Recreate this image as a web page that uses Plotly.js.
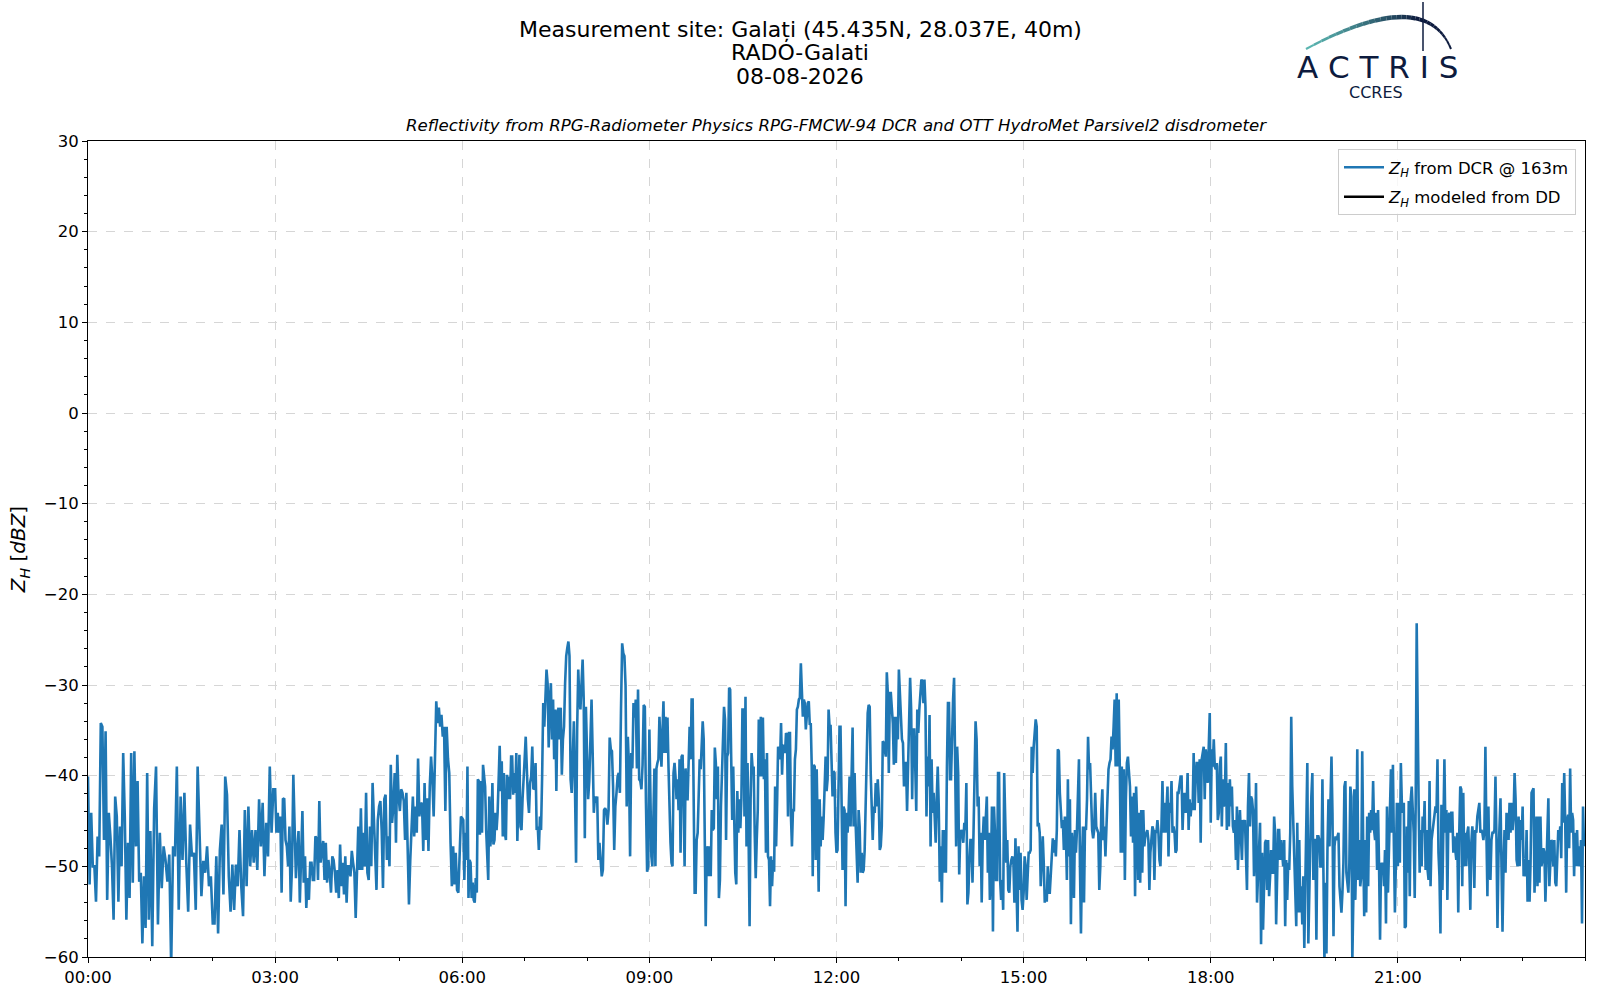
<!DOCTYPE html>
<html>
<head>
<meta charset="utf-8">
<script src="https://cdn.plot.ly/plotly-3.0.1.min.js"></script>
<style>
  html, body { margin: 0; padding: 0; background: #fff; }
  #chart { width: 1600px; height: 1000px; }
</style>
</head>
<body>
<div id="chart"></div>
<script>
// Z_H from the cloud radar (dBZ), one array per hour
const zh00 = [-40.1,-52.0,-44.1,-50.0,-50.0,-53.9,-46.7,-48.9,-34.2,-34.6,-47.1,-35.1,-53.7,-44.1,-46.7,-50.0,-55.9,-42.3,-44.5,-53.9,-45.6,-50.0,-37.5,-44.5,-55.9,-47.4,-53.5,-37.5,-51.8,-37.3,-47.8,-40.6,-51.7,-50.7,-58.5,-51.1,-56.8,-39.7,-55.9];
const zh01 = [-46.1,-58.8,-43.6,-39.0,-56.4,-46.3,-52.4,-47.8,-49.3,-51.7,-48.7,-61.0,-47.8,-48.9,-39.0,-54.8,-42.3,-49.3,-41.9,-49.6,-55.0,-45.4,-48.9,-48.5,-54.8,-39.0,-47.2,-53.3,-49.4,-50.7,-47.8,-52.2,-51.1];
const zh02 = [-56.3,-56.3,-48.9,-57.4,-48.2,-45.4,-53.1,-40.1,-42.1,-51.1,-55.0,-49.8,-54.8,-49.8,-52.2,-46.0,-52.2,-55.5,-43.8,-52.2,-43.4,-50.0,-46.0,-49.6,-46.0,-50.4,-42.6,-47.8,-43.0,-51.1,-45.2,-48.9,-39.0,-46.3,-41.5];
const zh03 = [-41.5,-46.3,-44.1,-46.3,-44.5,-52.9,-42.6,-42.5,-47.1,-47.8,-50.0,-45.6,-53.9,-50.0,-39.9,-44.9,-51.3,-48.2,-46.1,-54.0,-47.1,-43.9,-51.8,-48.9,-54.6,-51.3,-53.7,-49.6,-49.6,-51.5,-51.5,-46.7,-46.9,-51.5,-42.8,-49.6,-48.3,-47.2,-51.5,-47.4,-51.8,-49.3,-50.7,-52.9,-48.9,-49.3,-50.7,-52.9];
const zh04 = [-50.4,-53.5,-47.6,-52.2,-49.6,-53.1,-48.9,-54.0,-50.0,-50.0,-51.1,-48.3,-49.6,-50.7,-55.7,-50.0,-45.6,-50.4,-43.6,-50.4,-46.3,-50.0,-41.9,-50.7,-51.5,-45.6,-50.0,-40.8,-44.5,-47.1,-52.6,-44.9,-43.4,-42.8,-46.0,-52.4,-42.6,-42.1,-49.3,-46.7,-50.0,-38.8,-45.2,-43.4,-39.7,-47.4,-37.7,-42.3];
const zh05 = [-43.9,-41.5,-41.9,-42.8,-47.1,-41.9,-47.4,-54.2,-49.3,-44.9,-42.3,-46.7,-43.4,-46.3,-38.1,-44.5,-43.2,-43.0,-48.3,-40.8,-47.1,-42.5,-48.3,-41.2,-37.9,-40.4,-44.5,-38.2,-31.8,-34.2,-32.5,-34.6,-33.3,-35.7,-34.6,-43.9,-34.6,-38.1,-39.7,-47.4,-52.2,-47.8,-52.0,-48.5,-52.6,-52.9,-49.6,-44.5];
const zh06 = [-44.7,-44.9,-51.5,-46.3,-49.3,-39.0,-53.5,-49.3,-49.6,-53.5,-51.8,-53.7,-54.0,-51.3,-52.9,-40.4,-40.6,-46.5,-40.6,-46.3,-38.8,-39.7,-41.2,-46.0,-49.3,-51.5,-42.3,-47.8,-46.3,-40.8,-47.6,-47.1,-44.1,-46.0,-44.1,-41.2,-36.7,-41.7,-38.4,-46.7,-39.7,-46.3,-47.1,-39.9,-42.6,-40.1,-42.6,-37.9,-37.9,-42.1,-39.7,-41.9,-37.5,-47.2,-40.6,-37.7,-45.6,-46.0,-42.6,-40.8];
const zh07 = [-38.2,-35.7,-39.7,-42.6,-44.1,-40.8,-40.1,-36.8,-41.5,-41.4,-38.6,-46.0,-45.6,-48.2,-44.5,-46.0,-40.1,-32.0,-34.6,-31.6,-28.3,-29.8,-36.9,-31.6,-29.8,-36.0,-31.6,-38.2,-32.7,-41.7,-33.1,-32.5,-36.0,-32.5,-39.9,-36.0,-34.6,-29.8,-26.8,-25.9,-25.2,-26.8,-40.4,-41.9,-37.9,-34.0,-41.2,-49.6,-34.9,-28.3,-31.6,-32.7,-29.8,-27.2,-31.6,-46.9,-32.4];
const zh08 = [-37.5,-42.6,-40.6,-35.7,-31.6,-37.5,-44.1,-42.3,-43.0,-42.3,-49.3,-47.4,-49.3,-51.1,-50.4,-43.8,-43.6,-43.9,-45.4,-43.8,-35.8,-37.1,-37.3,-41.2,-48.2,-43.4,-41.9,-40.1,-39.7,-41.9,-32.5,-25.4,-26.5,-26.8,-30.1,-43.4,-35.7,-39.0,-48.9,-37.5,-39.2,-32.0,-33.6,-31.6,-39.2,-30.5,-40.4,-40.6,-41.5,-38.8,-32.2,-32.4,-43.0,-50.6,-50.0];
const zh09 = [-34.9,-41.9,-48.9,-50.0,-44.5,-39.2,-50.0,-39.2,-38.6,-38.2,-33.5,-37.5,-39.0,-35.3,-31.8,-37.5,-33.5,-37.5,-33.6,-39.0,-44.1,-47.4,-49.6,-50.0,-39.7,-38.6,-40.1,-42.6,-40.4,-43.8,-38.2,-48.5,-37.9,-37.7,-42.6,-50.0,-39.2,-42.6,-42.6,-36.4,-34.6,-38.2,-31.6,-31.6,-46.3,-52.9,-52.9,-47.1,-46.3,-40.1,-38.2,-39.3,-35.7,-34.0,-36.0,-43.8,-56.6,-48.2,-47.8,-51.1,-47.8,-51.1];
const zh10 = [-43.8,-46.0,-45.8,-36.9,-38.6,-42.6,-39.0,-53.5,-51.5,-43.4,-39.3,-36.0,-32.4,-33.8,-47.1,-37.9,-37.5,-30.3,-30.5,-37.9,-44.9,-39.0,-44.1,-50.7,-52.0,-41.7,-46.3,-42.6,-45.8,-42.5,-32.7,-32.7,-44.5,-31.3,-47.8,-38.6,-46.3,-56.6,-42.6,-37.5,-39.3,-39.0,-46.3,-51.3,-47.1,-43.8,-33.8,-40.1,-33.5,-40.1,-33.6,-40.4,-38.2,-48.5,-37.5,-48.9,-49.3,-54.4,-48.9,-52.2,-49.3];
const zh11 = [-50.6,-41.2,-47.8,-43.0,-36.8,-37.1,-38.2,-34.2,-39.9,-36.6,-36.8,-37.5,-35.3,-35.5,-44.5,-35.3,-35.3,-44.5,-47.8,-43.8,-43.8,-38.2,-37.1,-32.7,-32.4,-31.6,-31.4,-27.6,-30.9,-33.5,-31.6,-32.0,-34.9,-33.6,-32.0,-31.8,-34.4,-34.2,-39.0,-51.1,-38.8,-39.0,-49.3,-39.3,-48.5,-52.8,-42.6,-47.8,-44.5,-47.1,-44.7,-41.9,-37.9,-41.7,-40.4,-32.7,-34.6,-34.4,-40.1,-42.3,-39.5,-39.7,-46.3];
const zh12 = [-48.5,-48.2,-42.6,-34.6,-34.6,-46.3,-50.4,-43.4,-43.8,-54.4,-44.1,-46.3,-44.1,-40.1,-45.6,-39.9,-34.7,-45.6,-39.7,-45.2,-48.5,-51.8,-43.8,-45.6,-50.7,-48.5,-50.7,-50.4,-48.2,-42.3,-34.9,-33.1,-32.2,-32.4,-39.7,-42.6,-47.1,-43.4,-44.1,-40.8,-43.4,-40.4,-42.6,-48.2,-47.8,-45.6,-36.2,-36.4,-37.5,-37.9,-28.6,-30.9,-39.7,-30.9,-30.9,-33.5,-34.2,-38.8,-33.5,-38.6,-33.5,-36.0];
const zh13 = [-28.3,-30.9,-34.6,-36.0,-36.4,-41.2,-38.6,-38.6,-43.9,-39.0,-31.6,-29.2,-32.7,-42.6,-34.9,-34.9,-39.0,-43.9,-32.7,-35.3,-32.7,-30.1,-29.4,-29.6,-32.0,-29.4,-32.4,-44.5,-37.9,-41.2,-33.3,-47.8,-38.2,-44.1,-41.9,-44.5,-47.4,-42.6,-39.0,-43.4,-51.7,-47.8,-54.0,-46.0,-50.7,-46.0,-50.7,-39.0,-32.0,-32.0,-40.4,-40.4,-35.3,-31.6,-29.2,-36.4,-47.8,-36.8,-39.7,-50.9,-46.7];
const zh14 = [-46.0,-46.3,-47.4,-45.2,-46.0,-40.8,-54.2,-52.9,-49.3,-47.1,-47.1,-51.8,-46.3,-39.0,-34.0,-36.0,-43.4,-42.3,-50.0,-46.3,-54.0,-47.1,-44.5,-47.1,-44.5,-42.3,-50.7,-46.3,-53.7,-50.7,-43.4,-57.2,-43.4,-46.3,-51.5,-51.5,-39.7,-39.7,-51.5,-53.7,-51.5,-54.8,-39.7,-46.3,-49.6,-47.1,-52.6,-52.9,-50.0,-49.3,-48.9,-49.6,-54.0,-46.9,-51.1,-57.2,-47.8,-52.6,-48.5,-53.7,-54.8];
const zh15 = [-52.9,-48.9,-50.0,-53.7,-51.1,-48.5,-48.5,-48.2,-36.8,-39.7,-36.8,-35.3,-33.8,-34.6,-45.6,-45.2,-46.3,-52.2,-50.0,-46.7,-49.6,-54.0,-52.6,-53.9,-50.0,-52.9,-52.9,-50.7,-47.8,-46.9,-48.5,-47.1,-48.9,-46.0,-37.1,-37.3,-41.9,-44.5,-45.8,-44.9,-48.2,-44.5,-46.3,-51.5,-40.4,-48.9,-42.6,-56.4,-46.3,-47.8,-53.5,-46.0,-48.5,-46.0,-41.9,-38.2,-50.0,-57.4,-49.3,-45.6,-54.0,-45.6];
const zh16 = [-46.0,-42.6,-35.7,-39.3,-38.6,-44.1,-46.0,-46.9,-46.0,-41.9,-45.6,-46.0,-46.3,-52.6,-50.0,-43.8,-41.5,-47.1,-45.6,-48.9,-45.6,-42.3,-39.3,-38.6,-38.2,-35.7,-37.1,-34.6,-31.6,-39.0,-30.9,-39.0,-31.6,-38.6,-48.5,-39.0,-48.5,-39.3,-51.5,-42.6,-38.6,-37.9,-39.7,-41.2,-46.7,-42.3,-47.4,-41.9,-53.3,-41.2,-44.9,-51.5,-44.1,-51.8,-43.8,-50.7,-43.8,-47.8,-46.7,-46.3,-46.0];
const zh17 = [-47.1,-52.6,-48.5,-46.3,-45.6,-46.0,-51.5,-46.0,-46.3,-44.9,-46.3,-49.3,-50.0,-45.6,-40.6,-46.3,-43.0,-46.3,-42.6,-41.2,-48.9,-43.0,-44.1,-40.6,-46.3,-45.6,-46.3,-48.5,-48.2,-41.9,-41.9,-41.2,-40.1,-40.1,-46.0,-42.6,-41.9,-44.1,-43.4,-39.7,-46.0,-42.6,-44.5,-43.0,-43.8,-37.5,-43.8,-40.4,-38.6,-38.6,-43.0,-38.2,-47.4,-38.2,-37.5,-36.8,-42.6,-37.1,-38.2,-40.8,-36.8,-33.1];
const zh18 = [-45.2,-37.1,-39.0,-36.0,-39.0,-39.3,-38.6,-44.9,-44.1,-39.0,-37.9,-45.6,-40.4,-43.4,-42.6,-36.4,-46.0,-40.8,-45.6,-40.4,-43.4,-41.2,-45.6,-46.3,-44.9,-49.3,-43.4,-50.4,-46.3,-43.8,-46.7,-49.3,-44.9,-45.2,-44.9,-49.3,-52.6,-43.4,-39.7,-45.6,-42.3,-42.6,-43.8,-51.1,-47.8,-40.8,-54.0,-51.1,-48.5,-45.2,-58.6,-48.5,-57.0,-49.6,-47.4,-47.1,-52.6,-47.1,-53.3,-51.1,-48.2,-50.7];
const zh19 = [-50.7,-44.5,-46.3,-56.4,-50.7,-46.0,-46.0,-49.3,-47.1,-48.5,-50.0,-47.1,-56.6,-49.3,-53.7,-49.6,-50.4,-46.3,-33.5,-41.2,-45.6,-50.0,-52.9,-56.6,-45.2,-55.1,-47.1,-55.1,-52.2,-56.4,-51.1,-59.0,-51.8,-45.6,-38.6,-58.5,-50.0,-47.1,-42.3,-39.7,-51.5,-47.1,-47.1,-58.1,-46.7,-46.7,-47.1,-50.0,-50.0,-40.4,-50.7,-60.5,-51.8,-59.6,-48.2,-42.6,-47.8,-42.6,-37.9,-44.1,-57.7,-47.8];
const zh20 = [-46.7,-47.1,-46.7,-46.3,-52.2,-53.7,-55.1,-52.9,-49.6,-41.2,-40.6,-50.7,-52.2,-52.9,-49.6,-41.2,-42.3,-60.5,-53.7,-41.5,-53.7,-48.5,-37.1,-51.5,-47.1,-52.2,-51.1,-37.3,-47.8,-55.5,-47.1,-55.1,-44.5,-52.2,-44.1,-46.3,-43.8,-46.0,-40.6,-46.0,-47.1,-44.1,-50.4,-43.8,-50.0,-58.1,-49.6,-50.7,-49.6,-52.2,-48.2,-56.3,-43.4,-52.9,-48.2,-43.4,-39.3,-46.3,-38.8,-47.8,-55.1,-49.6,-43.0];
const zh21 = [-50.0,-43.0,-49.6,-38.6,-43.0,-44.1,-43.0,-56.8,-56.6,-45.6,-50.7,-42.8,-53.3,-42.6,-41.2,-43.4,-46.3,-53.5,-43.0,-23.2,-39.0,-43.4,-50.7,-46.0,-50.0,-44.5,-46.3,-42.8,-50.4,-46.0,-50.4,-51.5,-40.6,-52.2,-47.1,-46.3,-44.9,-44.5,-43.4,-44.1,-38.2,-48.5,-51.1,-57.4,-43.2,-52.6,-43.0,-38.2,-46.3,-43.8,-53.7,-44.5,-44.1,-46.3,-44.1,-44.1,-48.5,-46.7,-48.2,-49.3,-46.3,-55.1,-46.3];
const zh22 = [-41.2,-41.5,-52.2,-41.9,-50.0,-46.3,-50.0,-46.3,-45.6,-49.6,-54.8,-47.4,-45.6,-47.1,-52.4,-46.0,-46.3,-44.5,-43.4,-43.0,-46.3,-46.0,-46.3,-47.1,-46.0,-36.8,-46.3,-53.3,-43.4,-50.7,-51.5,-47.1,-46.3,-46.3,-46.0,-40.1,-47.1,-56.8,-48.9,-46.0,-42.5,-50.0,-57.2,-50.0,-46.0,-50.7,-44.1,-44.9,-47.1,-43.0,-46.3,-43.0,-46.0,-44.5,-39.7,-42.6,-49.3,-50.0,-44.5,-50.0,-44.9,-47.1];
const zh23 = [-43.4,-51.1,-49.3,-51.1,-46.0,-53.9,-49.3,-53.9,-49.6,-41.9,-41.5,-41.4,-52.9,-49.6,-44.5,-52.2,-44.5,-51.8,-44.5,-50.0,-49.3,-48.0,-48.5,-53.9,-48.9,-46.3,-42.5,-52.2,-48.5,-47.1,-47.4,-50.0,-47.1,-51.8,-52.2,-49.3,-46.0,-47.1,-45.6,-49.1,-40.8,-45.2,-39.7,-44.9,-52.9,-44.9,-44.3,-48.0,-39.2,-46.3,-44.1,-44.9,-51.1,-46.3,-50.0,-46.0,-50.0,-47.8,-50.0,-47.1,-56.3,-43.4,-47.8];

const zhHours = [zh00, zh01, zh02, zh03, zh04, zh05, zh06, zh07, zh08, zh09, zh10, zh11,
                 zh12, zh13, zh14, zh15, zh16, zh17, zh18, zh19, zh20, zh21, zh22, zh23];

const xTickLabels = ["00:00", "03:00", "06:00", "09:00", "12:00", "15:00", "18:00", "21:00"];
const xTickHours = [0, 3, 6, 9, 12, 15, 18, 21];

const day0 = Date.UTC(2026, 7, 8);
const HOUR = 3600000;

// spread each hour's samples evenly over that hour
const times = [];
const zhDcr = [];
zhHours.forEach((vals, h) => {
	vals.forEach((v, j) => {
		times.push(day0 + h * HOUR + (j * HOUR) / vals.length);
		zhDcr.push(v);
	});
});

// plot-area edges in pixels, for placing the header items
const PL = 88, PR = 1585, PT = 141, PB = 957;
const px = (x) => (x - PL) / (PR - PL);
const py = (y) => (PB - y) / (PB - PT);

const NAVY = "#0d1b3e";
const FONT = "DejaVu Sans";

// logo arc: quadratic bezier coloured from teal to navy
function logoArc() {
	const p0 = [1306, 49], p1 = [1425, -15], p2 = [1451, 49];
	const teal = [90, 181, 176], navy = [13, 27, 62];
	const n = 30;
	const pt = (t) => [
		(1 - t) * (1 - t) * p0[0] + 2 * t * (1 - t) * p1[0] + t * t * p2[0],
		(1 - t) * (1 - t) * p0[1] + 2 * t * (1 - t) * p1[1] + t * t * p2[1],
	];
	const shapes = [];
	for (let i = 0; i < n; i++) {
		const a = pt(i / n), b = pt((i + 1) / n);
		const k = Math.min(1, (i / n) / 0.6);
		const c = teal.map((tc, ci) => Math.round(tc + (navy[ci] - tc) * k));
		// thicker in the middle of the arc
		const w = 2 + 2.5 * Math.sin(Math.PI * Math.min(1, (i + 0.5) / n * 1.1));
		shapes.push({
			type: "line", xref: "paper", yref: "paper",
			x0: px(a[0]), y0: py(a[1]), x1: px(b[0]), y1: py(b[1]),
			line: { color: `rgb(${c.join(",")})`, width: w },
		});
	}
	shapes.push({
		type: "line", xref: "paper", yref: "paper",
		x0: px(1423), y0: py(2), x1: px(1423), y1: py(51),
		line: { color: NAVY, width: 1.5 },
	});
	return shapes;
}

const traces = [
	{
		x: times,
		y: zhDcr,
		mode: "lines",
		name: "<i>Z<sub>H</sub></i> from DCR @ 163m",
		legendgroup: "dcr",
		line: { color: "#1f77b4", width: 2.6 },
	},
	{
		x: [day0],
		y: [null],
		mode: "lines",
		name: "<i>Z<sub>H</sub></i> modeled from DD",
		legendgroup: "dd",
		line: { color: "black", width: 2.6 },
	},
];

const header = (text, y, size, extra) =>
	Object.assign({
		text, xref: "paper", yref: "paper", x: px(800), y: py(y),
		xanchor: "center", yanchor: "middle", showarrow: false,
		font: { family: FONT, size, color: "black" },
	}, extra || {});

const layout = {
	width: 1600,
	height: 1000,
	margin: { l: PL, r: 1600 - PR, t: PT, b: 1000 - PB },
	paper_bgcolor: "white",
	plot_bgcolor: "white",
	font: { family: FONT, size: 16, color: "black" },
	showlegend: true,
	legend: {
		x: px(1576), y: py(149), xanchor: "right", yanchor: "top",
		bgcolor: "rgba(255,255,255,0.8)", bordercolor: "#cccccc", borderwidth: 1,
		font: { family: FONT, size: 16.5 },
		itemwidth: 40, tracegroupgap: 5, traceorder: "grouped",
	},
	xaxis: {
		type: "date",
		range: [day0, day0 + 24 * HOUR],
		tickmode: "array",
		tickvals: xTickHours.map((h) => day0 + h * HOUR),
		ticktext: xTickLabels,
		ticks: "outside", ticklen: 5, tickwidth: 1, tickcolor: "black",
		minor: { tickmode: "linear", tick0: day0, dtick: HOUR, ticks: "outside", ticklen: 3, tickcolor: "black", showgrid: false },
		showgrid: true, gridcolor: "#d6d6d6", griddash: "dash", gridwidth: 1,
		showline: true, linecolor: "black", linewidth: 1, mirror: true,
		zeroline: false,
		tickfont: { family: FONT, size: 16.5 },
	},
	yaxis: {
		range: [-60, 30],
		dtick: 10,
		ticks: "outside", ticklen: 5, tickwidth: 1, tickcolor: "black",
		minor: { dtick: 2, ticks: "outside", ticklen: 3, tickcolor: "black", showgrid: false },
		showgrid: true, gridcolor: "#d6d6d6", griddash: "dash", gridwidth: 1,
		showline: true, linecolor: "black", linewidth: 1, mirror: true,
		zeroline: false,
		tickfont: { family: FONT, size: 16.5 },
		title: {
			text: "<i>Z<sub>H</sub></i> [<i>dBZ</i>]",
			font: { family: FONT, size: 20 },
			standoff: 12,
		},
	},
	shapes: logoArc(),
	annotations: [
		header("Measurement site: Galați (45.435N, 28.037E, 40m)", 29, 22),
		header("RADO-Galati", 52.5, 22),
		header("08-08-2026", 76, 22),
		header("<i>Reflectivity from RPG-Radiometer Physics RPG-FMCW-94 DCR and OTT HydroMet Parsivel2 disdrometer</i>",
			125.5, 16.6, { x: 0.5 }),
		header("A C T R I S", 67.5, 31, { x: px(1377), font: { family: FONT, size: 31, color: NAVY } }),
		header("CCRES", 92.5, 16, { x: px(1376), font: { family: FONT, size: 16, color: NAVY } }),
	],
};

Plotly.newPlot("chart", traces, layout, { displayModeBar: false, staticPlot: true });
</script>
</body>
</html>
